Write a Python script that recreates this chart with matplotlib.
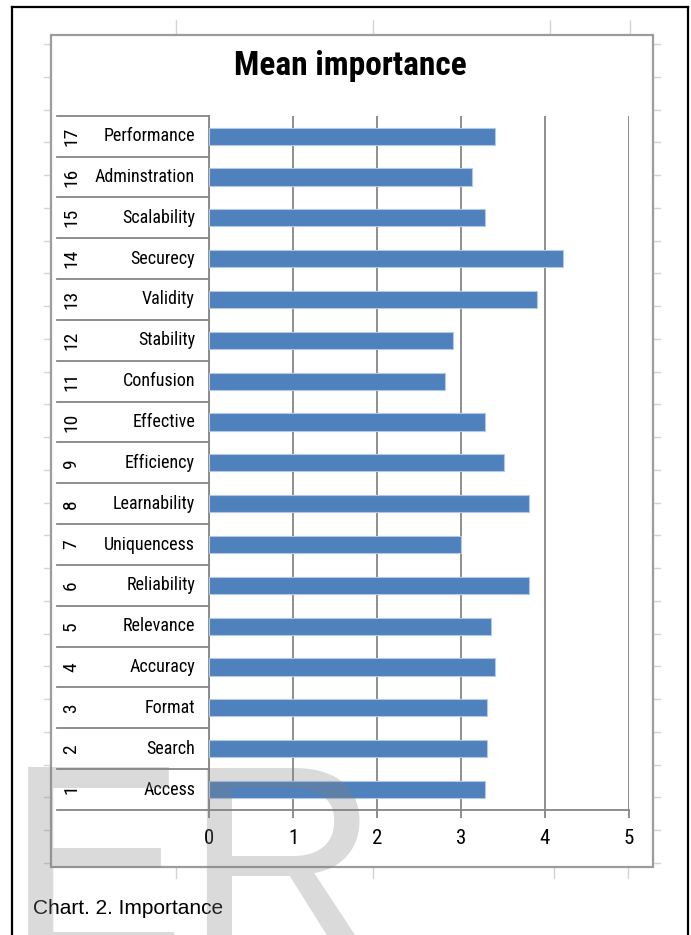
import matplotlib
matplotlib.use("Agg")
import matplotlib.pyplot as plt
from matplotlib.lines import Line2D
from matplotlib.patches import Rectangle
import matplotlib.transforms as mtransforms
from matplotlib import font_manager as fm

# ---------------- data ----------------
numbers = [str(i) for i in range(1, 18)]
names = ["Access", "Search", "Format", "Accuracy", "Relevance", "Reliability",
         "Uniquencess", "Learnability", "Efficiency", "Effective", "Confusion",
         "Stability", "Validity", "Securecy", "Scalability", "Adminstration",
         "Performance"]
values = [3.28, 3.31, 3.31, 3.41, 3.36, 3.81, 3.00, 3.81, 3.51, 3.28, 2.81,
          2.91, 3.91, 4.21, 3.28, 3.13, 3.41]
xticks = [0, 1, 2, 3, 4, 5]
title = "Mean importance"
caption = "Chart. 2. Importance"

# ---------------- font choice ----------------
avail = {}
for f in fm.fontManager.ttflist:
    avail.setdefault(f.name, set()).add(f.stretch)
NARROW_KW = None
for cand in ["Liberation Sans Narrow", "Roboto Condensed", "Open Sans Condensed",
             "Noto Sans Condensed", "DejaVu Sans Condensed"]:
    if cand in avail:
        NARROW_KW = dict(family=[cand, "DejaVu Sans"])
        break
if NARROW_KW is None:
    for nm, st in avail.items():
        if any(s in ("condensed", "semi-condensed", "extra-condensed") for s in st):
            NARROW_KW = dict(family=[nm, "DejaVu Sans"], fontstretch="condensed")
            break
if NARROW_KW is None:
    NARROW_KW = dict(family=["Lato", "DejaVu Sans"])

# ---------------- layout ----------------
W, H = 691, 935
fig = plt.figure(figsize=(W / 100, H / 100), dpi=100)
fig.patch.set_facecolor("white")

def fx(x):
    return x / W

def fy(y):
    return 1 - y / H

def fline(x0, y0, x1, y1, **kw):
    fig.add_artist(Line2D([fx(x0), fx(x1)], [fy(y0), fy(y1)],
                          transform=fig.transFigure, **kw))

# faint spreadsheet cell-grid stubs around the chart
stub = dict(color="#d4d4d4", lw=1.0, zorder=0)
for k in range(26):
    y = 44 + 32.75 * k
    fline(44, y, 51, y, **stub)
    fline(653, y, 660, y, **stub)
for x in (176, 373, 550, 630):
    fline(x, 20, x, 34.5, **stub)
for x in (176, 373, 554, 628):
    fline(x, 867, x, 878, **stub)

# chart box
fig.add_artist(Rectangle((fx(51), fy(867)), fx(653) - fx(51), fy(34.5) - fy(867),
                         transform=fig.transFigure, facecolor="white",
                         edgecolor="#9c9c9c", lw=1.6, zorder=0.5))

# page frame
frame = dict(color="black", lw=1.6, zorder=20)
fline(12, 7, 688, 7, **frame)
fline(12, 7, 12, 935, **frame)
fline(688, 7, 688, 935, **frame)

# plot axes
ax = fig.add_axes([fx(209), fy(810), fx(629) - fx(209), fy(115.7) - fy(810)])
ax.set_zorder(2)
ax.set_facecolor("none")
ypos = list(range(len(values)))
ax.barh(ypos, values, height=0.42, color="#4F81BD", edgecolor="#b3c8e3",
        lw=0.8, zorder=3)
ax.set_xlim(0, 5)
ax.set_ylim(-0.5, 16.5)
ax.set_xticks(xticks)
ax.set_xticklabels([str(t) for t in xticks], fontsize=15, **NARROW_KW)
ax.set_yticks([])
ax.xaxis.grid(True, color="#868686", lw=1.3, zorder=1)
ax.set_axisbelow(True)
for s in ("top", "right"):
    ax.spines[s].set_visible(False)
for s in ("left", "bottom"):
    ax.spines[s].set_color("#868686")
    ax.spines[s].set_linewidth(1.3)
ax.tick_params(axis="x", direction="out", length=6, width=1.3,
               color="#868686", pad=8, labelcolor="black")

# two-level category axis
blend = mtransforms.blended_transform_factory(ax.transAxes, ax.transData)
xl = (57 - 209) / 420
ax.plot([xl, 0], [-0.5, -0.5], transform=blend, color="#868686", lw=1.3,
        clip_on=False)
for k in range(len(values)):
    ax.plot([xl, 0], [k + 0.5, k + 0.5], transform=blend, color="#868686",
            lw=1.3, clip_on=False)
    ax.text((195 - 209) / 420, k, names[k], transform=blend, ha="right",
            va="center", fontsize=13, clip_on=False, **NARROW_KW)
    ax.text((71 - 209) / 420, k, numbers[k], transform=blend, ha="center",
            va="center", rotation=90, fontsize=14, clip_on=False, **NARROW_KW)

# title and caption
fig.text(fx(350), fy(66), title, ha="center", va="center", fontsize=24,
         fontweight="bold", **NARROW_KW)
fig.text(fx(33), fy(909), caption, ha="left", va="center", fontsize=15,
         family=["Liberation Sans", "DejaVu Sans"])

# watermark
fig.text(fx(6), fy(953), "ER", ha="left", va="baseline", fontsize=194,
         family=["Liberation Sans", "DejaVu Sans"], color=(0.5, 0.5, 0.5),
         alpha=0.29, zorder=15)

fig.savefig("out.png", dpi=100)
